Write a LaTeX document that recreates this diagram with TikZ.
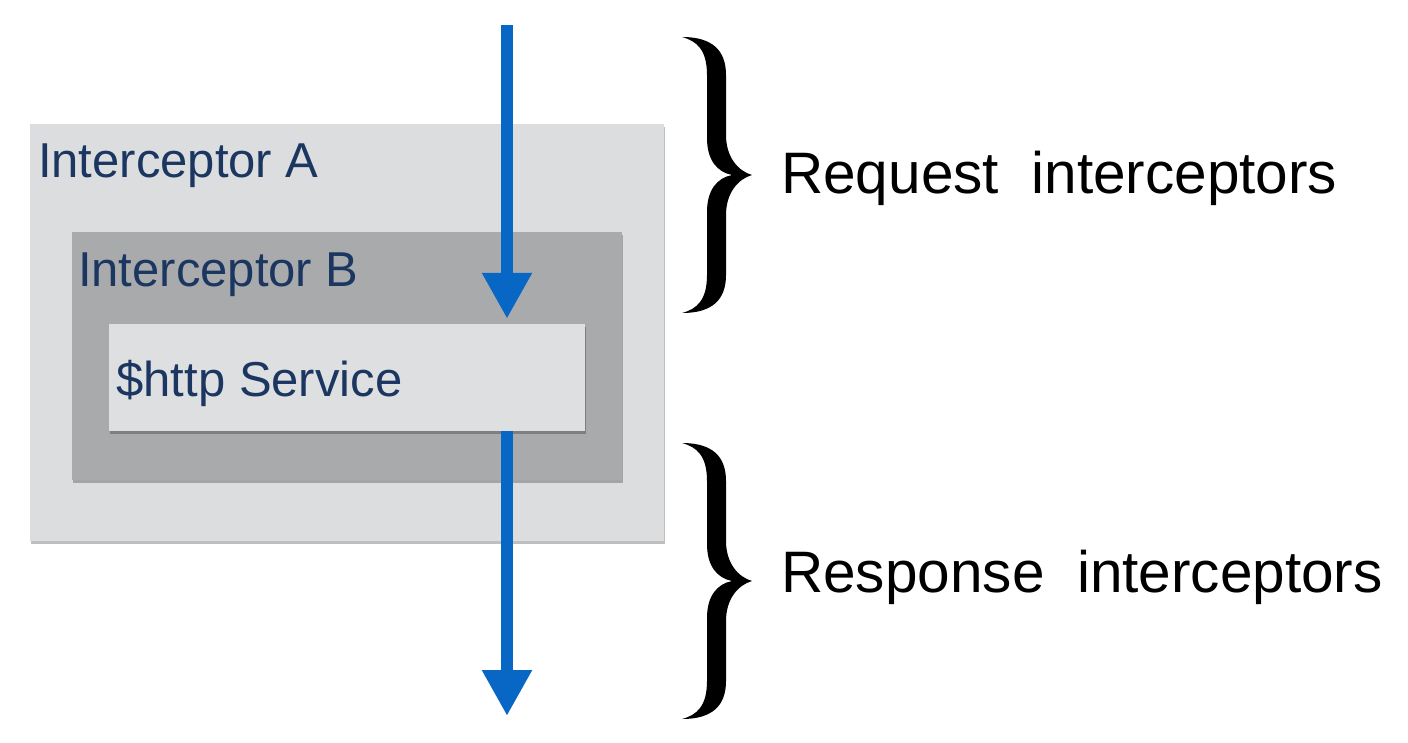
\documentclass[tikz,border=0pt]{standalone}
\usepackage{fontspec}
\setmainfont{Liberation Sans}
\usepackage{xcolor}
\usetikzlibrary{arrows.meta,shadows}
\definecolor{paleGray}{RGB}{220,221,223}
\definecolor{midGray}{RGB}{169,170,171}
\definecolor{svcGray}{RGB}{222,223,224}
\definecolor{navyText}{RGB}{27,54,96}
\definecolor{flowBlue}{RGB}{8,103,196}
\begin{document}
\begin{tikzpicture}[x=1pt,y=-1pt,
  layer/.style={rectangle,inner sep=0pt,draw=none,
    drop shadow={shadow xshift=1.5pt,shadow yshift=-2.5pt,opacity=0.25,fill=black}},
  lbl/.style={inner sep=0pt,anchor=base west,text=navyText,font=\fontsize{49}{58}\selectfont},
  side/.style={inner sep=0pt,anchor=base west,text=black,font=\fontsize{58.5}{68}\selectfont},
  flow/.style={draw=flowBlue,line width=12pt,-{Triangle[width=47pt,length=46pt]}},
  curly/.pic={
    \fill[black] (0,0) .. controls (-14,-4) and (-26,-18) .. (-26,-40)
      -- (-26,-100) .. controls (-26,-125) and (-40,-138) .. (-70,-138)
      .. controls (-55,-134) and (-45,-125) .. (-45,-100)
      -- (-45,-37) .. controls (-45,-15) and (-35,-3) .. (-20,0)
      .. controls (-35,3) and (-45,15) .. (-45,37)
      -- (-45,100) .. controls (-45,125) and (-55,134) .. (-70,138)
      .. controls (-40,138) and (-26,125) .. (-26,100)
      -- (-26,40) .. controls (-26,18) and (-14,4) .. (0,0) -- cycle;
  }]
\useasboundingbox (0,0) rectangle (1408,742);
\node[layer,fill=paleGray,minimum width=634pt,minimum height=417pt] (A) at (346.5,332.5) {};
\node[layer,fill=midGray,minimum width=550pt,minimum height=248pt] (B) at (346.5,356) {};
\node[layer,fill=svcGray,minimum width=476pt,minimum height=107pt] (svc) at (346.5,377.5) {};
\node[lbl] (labA) at ([xshift=8.5pt,yshift=-54pt]A.north west) {Interceptor A};
\node[lbl] (labB) at ([xshift=6.5pt,yshift=-55pt]B.north west) {Interceptor B};
\node[lbl] (labS) at ([xshift=8pt,yshift=-73pt]svc.north west) {\$http Service};
\coordinate (in) at (507,25);
\coordinate (out) at (507,716);
\draw[flow] (in) -- ([yshift=5pt]svc.north -| in);
\draw[flow] (svc.south -| out) -- (out);
\pic at (752,175) {curly};
\pic at (752,581) {curly};
\node[side] (req) at (781,193) {Request\ \ interceptors};
\node[side] (resp) at (781,592) {Response\ \ interceptors};
\end{tikzpicture}
\end{document}
